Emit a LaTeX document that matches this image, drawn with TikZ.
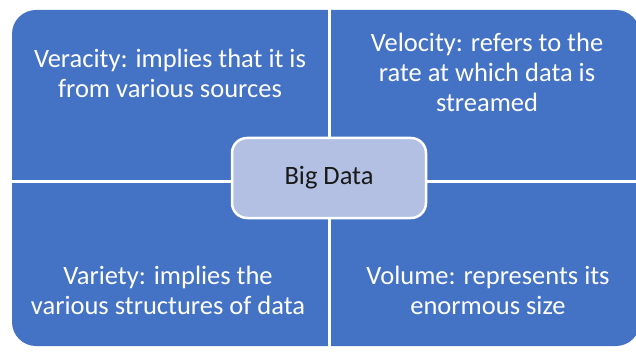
\documentclass[tikz,border=0pt]{standalone}
\usepackage{fontspec}
\setmainfont{Carlito}
\usepackage{tikz}
\definecolor{quadblue}{RGB}{68, 114, 196}
\definecolor{coreblue}{RGB}{180, 192, 227}
\usetikzlibrary{positioning}

\begin{document}
\begin{tikzpicture}[x=1pt, y=1pt,
			quadtext/.style={text=white, align=center, font=\fontsize{26.5}{30}\selectfont},
			core/.style={draw=white, line width=2.5pt, fill=coreblue, rounded corners=15pt,
				minimum width=194pt, minimum height=80pt, font=\fontsize{26.5}{30}\selectfont, text=black!90}]
			%Bildbereich
			\clip (0,0) rectangle (636,351);
			\fill[white] (0,0) rectangle (636,351);
			% Hintergrund der vier Felder
			\fill[quadblue, rounded corners=24pt] (12,5) rectangle (640,341);
			% Trennlinien
			\coordinate (top) at (329,351);
			\coordinate (bottom) at (329,0);
			\coordinate (left) at (0,170);
			\coordinate (right) at (636,170);
			\draw[white, line width=3pt] (top) -- (bottom);
			\draw[white, line width=3pt] (left) -- (right);
			% Texte der Felder
			\node[quadtext] (veracity) at (170,278) {Veracity: implies that it is\\from various sources};
			\node[quadtext] (velocity) at (487,279) {Velocity: refers to the\\rate at which data is\\streamed};
			\node[quadtext] (variety) at (168,61) {Variety: implies the\\various structures of data};
			\node[quadtext] (volume) at (488,61) {Volume: represents its\\enormous size};
			% Mitte
			\node[core] (bigdata) at (329,173) {Big Data};
		\end{tikzpicture}
\end{document}
